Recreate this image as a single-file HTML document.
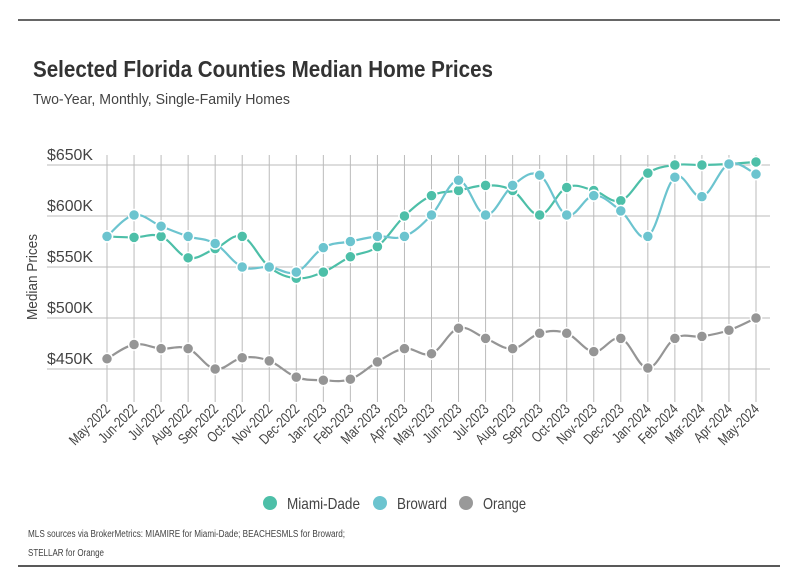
<!DOCTYPE html>
<html><head><meta charset="utf-8"><style>
body{margin:0;background:#fff;font-family:"Liberation Sans",sans-serif;}
svg text{font-family:"Liberation Sans",sans-serif;}
</style></head><body>
<svg id="c" width="798" height="575" xmlns="http://www.w3.org/2000/svg">
<line x1="18" y1="20" x2="780" y2="20" stroke="#333" stroke-width="1.5"/>
<text x="33" y="77" font-size="23" font-weight="bold" fill="#333" textLength="460" lengthAdjust="spacingAndGlyphs">Selected Florida Counties Median Home Prices</text>
<text x="33" y="104" font-size="15" fill="#444" textLength="257" lengthAdjust="spacingAndGlyphs">Two-Year, Monthly, Single-Family Homes</text>
<g id="grid"></g>
<g id="yax"></g>
<text transform="translate(37,277) rotate(-90)" text-anchor="middle" font-size="15" fill="#444" textLength="86" lengthAdjust="spacingAndGlyphs">Median Prices</text>
<g id="xax"></g>
<g id="series"></g>
<g>
<g><circle cx="270" cy="503" r="7" fill="#4dbfa8"/><text x="287" y="509" font-size="16" fill="#444" textLength="73" lengthAdjust="spacingAndGlyphs">Miami-Dade</text></g>
<g><circle cx="380" cy="503" r="7" fill="#6cc4cf"/><text x="397" y="509" font-size="16" fill="#444" textLength="50" lengthAdjust="spacingAndGlyphs">Broward</text></g>
<g><circle cx="466" cy="503" r="7" fill="#999"/><text x="483" y="509" font-size="16" fill="#444" textLength="43" lengthAdjust="spacingAndGlyphs">Orange</text></g>
</g>
<text x="28" y="537" font-size="10" fill="#444" textLength="317" lengthAdjust="spacingAndGlyphs">MLS sources via BrokerMetrics: MIAMIRE for Miami-Dade; BEACHESMLS for Broward;</text>
<text x="28" y="556" font-size="10" fill="#444" textLength="76" lengthAdjust="spacingAndGlyphs">STELLAR for Orange</text>
<line x1="18" y1="566" x2="780" y2="566" stroke="#222" stroke-width="1.5"/>
</svg>
<script>
const categories=["May-2022","Jun-2022","Jul-2022","Aug-2022","Sep-2022","Oct-2022","Nov-2022","Dec-2022","Jan-2023","Feb-2023","Mar-2023","Apr-2023","May-2023","Jun-2023","Jul-2023","Aug-2023","Sep-2023","Oct-2023","Nov-2023","Dec-2023","Jan-2024","Feb-2024","Mar-2024","Apr-2024","May-2024"];
const miamiDade=[580,579,580,559,568,580,550,539,545,560,570,600,620,625,630,625,601,628,625,615,642,650,650,651,653];
const broward=[580,601,590,580,573,550,550,545,569,575,580,580,601,635,601,630,640,601,620,605,580,638,619,651,641];
const orange=[460,474,470,470,450,461,458,442,439,440,457,470,465,490,480,470,485,485,467,480,451,480,482,488,500];
const yTicks=[450,500,550,600,650];
const yTickLabels=["$450K","$500K","$550K","$600K","$650K"];
const NS="http://www.w3.org/2000/svg";
const x0=107,x1=756,yBase=369,yPer=51/50;
const xs=i=>x0+i*(x1-x0)/(categories.length-1);
const ys=v=>yBase-(v-450)*yPer;
function mk(t,a,p){const e=document.createElementNS(NS,t);for(const k in a)e.setAttribute(k,a[k]);p.appendChild(e);return e;}
const grid=document.getElementById('grid'),yax=document.getElementById('yax'),xax=document.getElementById('xax'),ser=document.getElementById('series');
yTicks.forEach((v,i)=>{
 const l=mk('line',{x1:47,x2:770,y1:ys(v),y2:ys(v),stroke:'#bbb','stroke-width':1},grid);
 
 
 const t=mk('text',{x:47,y:ys(v)-5,'font-size':16,fill:'#444',textLength:46,lengthAdjust:'spacingAndGlyphs'},yax);
 t.textContent=yTickLabels[i];
 
 
});
categories.forEach((c,i)=>{
 const l=mk('line',{x1:xs(i),x2:xs(i),y1:155,y2:402,stroke:'#bbb','stroke-width':1},grid);
 
 
 const t=mk('text',{transform:`translate(${xs(i)+4},${410}) rotate(-45) scale(0.82,1.05)`,'text-anchor':'end','font-size':14,fill:'#444'},xax);
 t.textContent=c;
 
 
});
function path(vals){
 const p=vals.map((v,i)=>[xs(i),ys(v)]);
 let d=`M${p[0][0]},${p[0][1]}`;
 for(let i=0;i<p.length-1;i++){
  const a=p[i-1]||p[i],b=p[i],c=p[i+1],e=p[i+2]||c;
  const k=0.18;
  d+=` C${b[0]+(c[0]-a[0])*k},${b[1]+(c[1]-a[1])*k} ${c[0]-(e[0]-b[0])*k},${c[1]-(e[1]-b[1])*k} ${c[0]},${c[1]}`;
 }
 return d;
}
function drawSeries(vals,color,name){
 const g=mk('g',{},ser);
 
 
 const pl=mk('path',{d:path(vals),fill:'none',stroke:color,'stroke-width':2.2},g);
 
 
 vals.forEach((v,i)=>{
  const c=mk('circle',{cx:xs(i),cy:ys(v),r:5.5,fill:color,stroke:'#fff','stroke-width':1.5},g);
  
  
 });
}
drawSeries(orange,'#959595','orange');
drawSeries(miamiDade,'#4dbfa8','miami-dade');
drawSeries(broward,'#6cc4cf','broward');
</script>
</body></html>
